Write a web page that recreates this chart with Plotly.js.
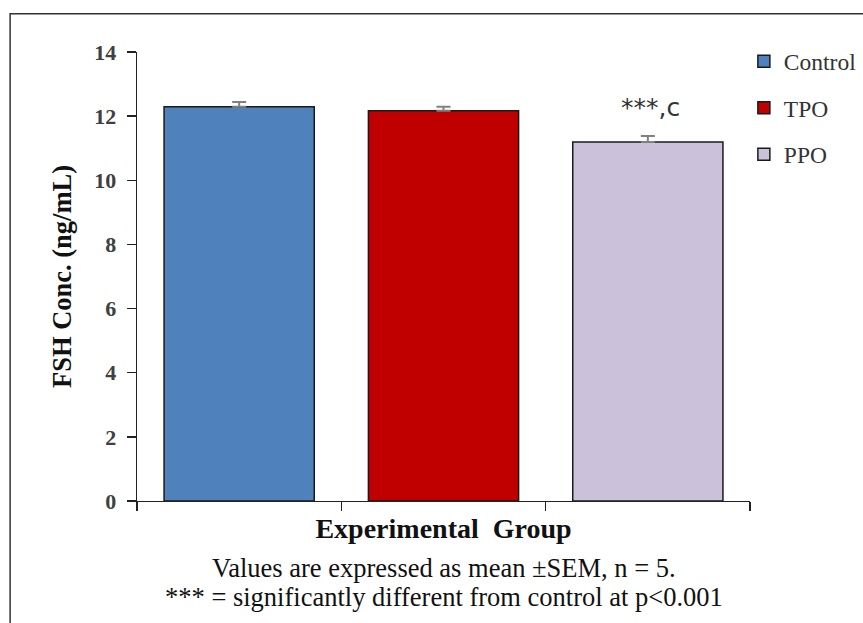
<!DOCTYPE html>
<html><head><meta charset="utf-8">
<script src="https://cdn.plot.ly/plotly-3.0.1.min.js"></script>
<style>html,body{margin:0;padding:0;background:#fff;}</style>
</head><body>
<div id="chart" style="width:863px;height:623px;"></div>
<script>
const groups = ["Control", "TPO", "PPO"];
const means = [12.29, 12.17, 11.19];
const sems = [0.15, 0.12, 0.19];
const colors = ["#4F81BD", "#C00000", "#CCC1DA"];
const sigLabels = ["", "", "***,c"];
const xTitle = "Experimental  Group";
const yTitle = "FSH Conc. (ng/mL)";
const footnotes = ["Values are expressed as mean \u00B1SEM, n = 5.", "*** = significantly different from control at p<0.001"];

const serif = "Liberation Serif, Times New Roman, serif";
const traces = groups.map((g, i) => ({
  type: "bar",
  name: g,
  x: [g],
  y: [means[i]],
  width: 0.735,
  legendgroup: g,
  marker: {color: colors[i], line: {color: "#1a1a1a", width: 1.5}},
  error_y: {type: "data", symmetric: false, array: [sems[i]], arrayminus: [0], visible: true,
    color: "#808080", thickness: 2, width: 7}
}));

const annotations = [];
groups.forEach((g, i) => {
  if (sigLabels[i]) annotations.push({
    x: g, y: means[i] + sems[i], xref: "x", yref: "y", yanchor: "bottom",
    xshift: 3, yshift: 12, text: sigLabels[i], showarrow: false,
    font: {family: "DejaVu Sans", size: 25, color: "#333"}
  });
});
footnotes.forEach((t, i) => annotations.push({
  x: 0.5, xref: "paper", y: -0.149 - i * 0.065, yref: "paper", yanchor: "middle",
  text: t, showarrow: false, font: {family: serif, size: 26.5, color: "#111"}
}));

const layout = {
  width: 863, height: 623,
  margin: {l: 137, r: 113, t: 52, b: 122, autoexpand: false},
  paper_bgcolor: "#fff", plot_bgcolor: "#fff",
  barmode: "overlay",
  showlegend: true,
  legend: {x: 0.99, y: 1.028, xanchor: "left", yanchor: "top",
    font: {family: serif, size: 23.5, color: "#333"},
    tracegroupgap: 13, itemwidth: 30, bgcolor: "rgba(0,0,0,0)"},
  xaxis: {
    type: "category", range: [-0.5, 2.5],
    showticklabels: false, showline: true, linecolor: "#222", linewidth: 1.3,
    ticks: "outside", tickson: "boundaries", ticklen: 9, tickcolor: "#222", tickwidth: 1.3,
    showgrid: false, zeroline: false,
    title: {text: "<b>" + xTitle + "</b>", standoff: 17, font: {family: serif, size: 28, color: "#111"}}
  },
  yaxis: {
    range: [0, 14], dtick: 2, showline: true, linecolor: "#222", linewidth: 1.3,
    ticks: "outside", ticklen: 9, tickcolor: "#222", tickwidth: 1.3,
    ticklabelstandoff: 6,
    showgrid: false, zeroline: false,
    tickfont: {family: serif, size: 22, color: "#404040", weight: "bold"},
    title: {text: "<b>" + yTitle + "</b>", standoff: 15, font: {family: serif, size: 26.5, color: "#111"}}
  },
  shapes: [{type: "rect", xref: "paper", yref: "paper", x0: -0.207, x1: 1.3, y0: -0.5, y1: 1.085,
    line: {color: "#333", width: 1.5}, fillcolor: "rgba(0,0,0,0)", layer: "below"}],
  annotations: annotations
};
Plotly.newPlot("chart", traces, layout, {displayModeBar: false, staticPlot: true});
</script>
</body></html>
